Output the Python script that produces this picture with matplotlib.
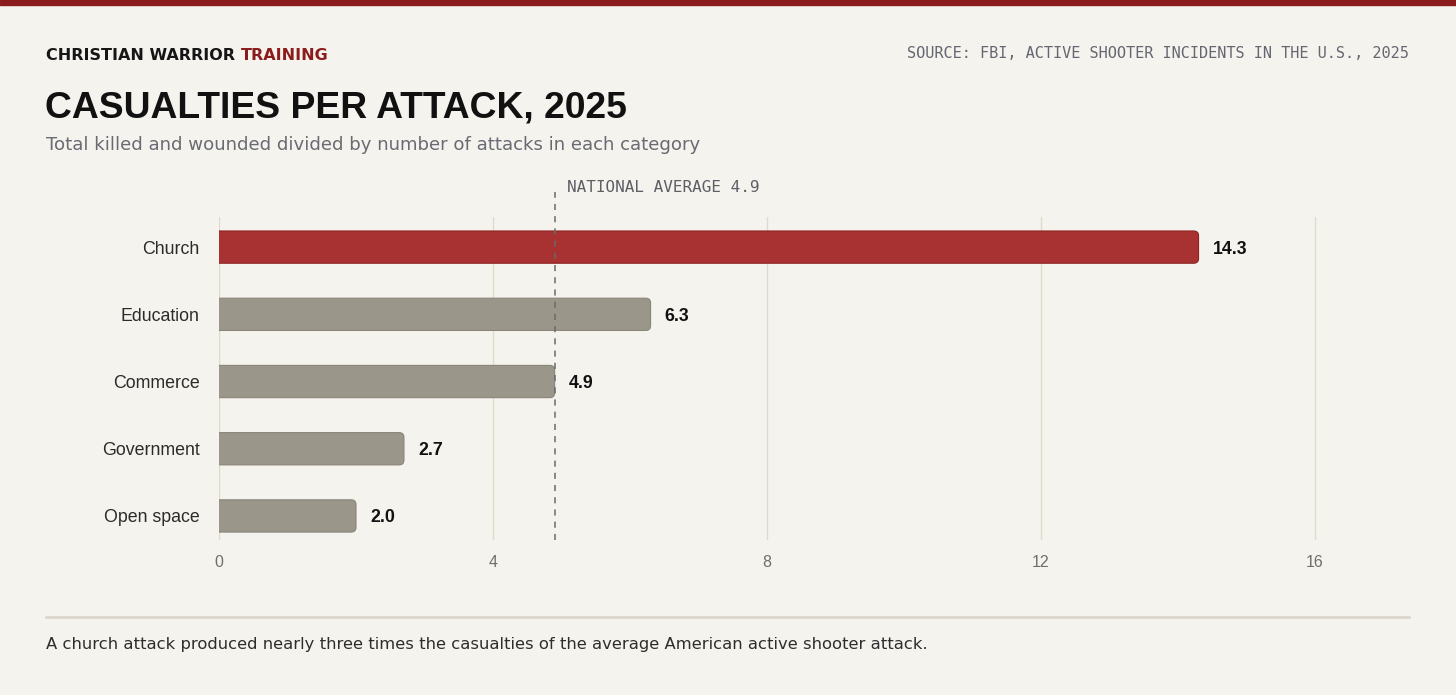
import matplotlib
matplotlib.use("Agg")
import matplotlib.pyplot as plt
from matplotlib.patches import FancyBboxPatch, Rectangle

# data
categories = ["Church", "Education", "Commerce", "Government", "Open space"]
values = [14.3, 6.3, 4.9, 2.7, 2.0]
national_avg = 4.9
xticks = [0, 4, 8, 12, 16]

W, H = 1456, 695
bg = "#f5f3ee"
red = "#a83232"
red_edge = "#8e2424"
grey = "#9b968a"
grey_edge = "#8a8579"

fig = plt.figure(figsize=(W / 100, H / 100), dpi=100, facecolor=bg)

def fx(px):
    return px / W

def fy(py):
    return 1 - py / H

# top red strip
fig.patches.append(Rectangle((0, fy(5)), 1, 5 / H, transform=fig.transFigure,
                             color="#8b1c1c", zorder=0))

# header texts
t1 = fig.text(fx(46), fy(55), "CHRISTIAN WARRIOR ", fontsize=11.5, fontweight="bold",
              family="DejaVu Sans", color="#161616", va="center", ha="left")
fig.canvas.draw()
bb = t1.get_window_extent()
fig.text(bb.x1 / W, fy(55), "TRAINING", fontsize=11.5, fontweight="bold",
         family="DejaVu Sans", color="#8b1c1c", va="center", ha="left")

fig.text(fx(1409), fy(54), "SOURCE: FBI, ACTIVE SHOOTER INCIDENTS IN THE U.S., 2025",
         fontsize=11, family="DejaVu Sans Mono", color="#666670", ha="right", va="center")

fig.text(fx(45), fy(108), "CASUALTIES PER ATTACK, 2025", fontsize=26.8, fontweight="bold",
         family="Liberation Sans", color="#111111", ha="left", va="center")
fig.text(fx(46), fy(145), "Total killed and wounded divided by number of attacks in each category",
         fontsize=13.1, family="DejaVu Sans", color="#6a6a72", ha="left", va="center")

# chart
ax = fig.add_axes([fx(219), 1 - 540 / H, 17 * 68.5 / W, 323 / H])
ax.set_facecolor(bg)
ax.set_xlim(0, 17)
ax.set_ylim(4.358, -0.448)

for i, (c, v) in enumerate(zip(categories, values)):
    fc = red if i == 0 else grey
    ec = red_edge if i == 0 else grey_edge
    box = FancyBboxPatch((-0.2, i - 0.24), v + 0.2, 0.48,
                         boxstyle="round,pad=0,rounding_size=0.07",
                         mutation_aspect=68.5 / 67,
                         facecolor=fc, edgecolor=ec, linewidth=0.8, zorder=3)
    ax.add_patch(box)
    ax.annotate(f"{v:.1f}", (v, i), xytext=(14, -2), textcoords="offset pixels",
                ha="left", va="center", fontsize=12.8, fontweight="bold",
                family="Liberation Sans", color="#111111", zorder=4)

ax.set_yticks(range(len(categories)))
ax.set_yticklabels(categories, fontsize=12.8, family="Liberation Sans", color="#2b2b2b")
ax.set_xticks(xticks)
ax.set_xticklabels([str(t) for t in xticks], fontsize=11.5, family="Liberation Sans",
                   color="#6e6e6e")
ax.tick_params(axis="both", length=0)
ax.tick_params(axis="y", pad=14)
ax.tick_params(axis="x", pad=11)
for s in ax.spines.values():
    s.set_visible(False)
ax.grid(axis="x", color="#e0dacb", linewidth=1, zorder=0)
ax.set_axisbelow(True)

# national average line
ax.plot([national_avg, national_avg], [4.358, -0.82], color="#6a6a6a", linewidth=1.1,
        linestyle=(0, (4, 4)), clip_on=False, zorder=5)
ax.annotate(f"NATIONAL AVERAGE {national_avg}", (national_avg, -0.448), xytext=(12, 29),
            textcoords="offset pixels", ha="left", va="center", fontsize=11.5,
            family="DejaVu Sans Mono", color="#5e5e66", annotation_clip=False)

# footer
fig.add_artist(plt.Line2D([fx(46), fx(1409)], [fy(617), fy(617)], transform=fig.transFigure,
                          color="#d8d4cb", linewidth=1.8))
fig.text(fx(46), fy(644),
         "A church attack produced nearly three times the casualties of the average American active shooter attack.",
         fontsize=11.75, family="DejaVu Sans", color="#2d2d2d", ha="left", va="center")

fig.savefig("out.png", dpi=100, facecolor=bg)
